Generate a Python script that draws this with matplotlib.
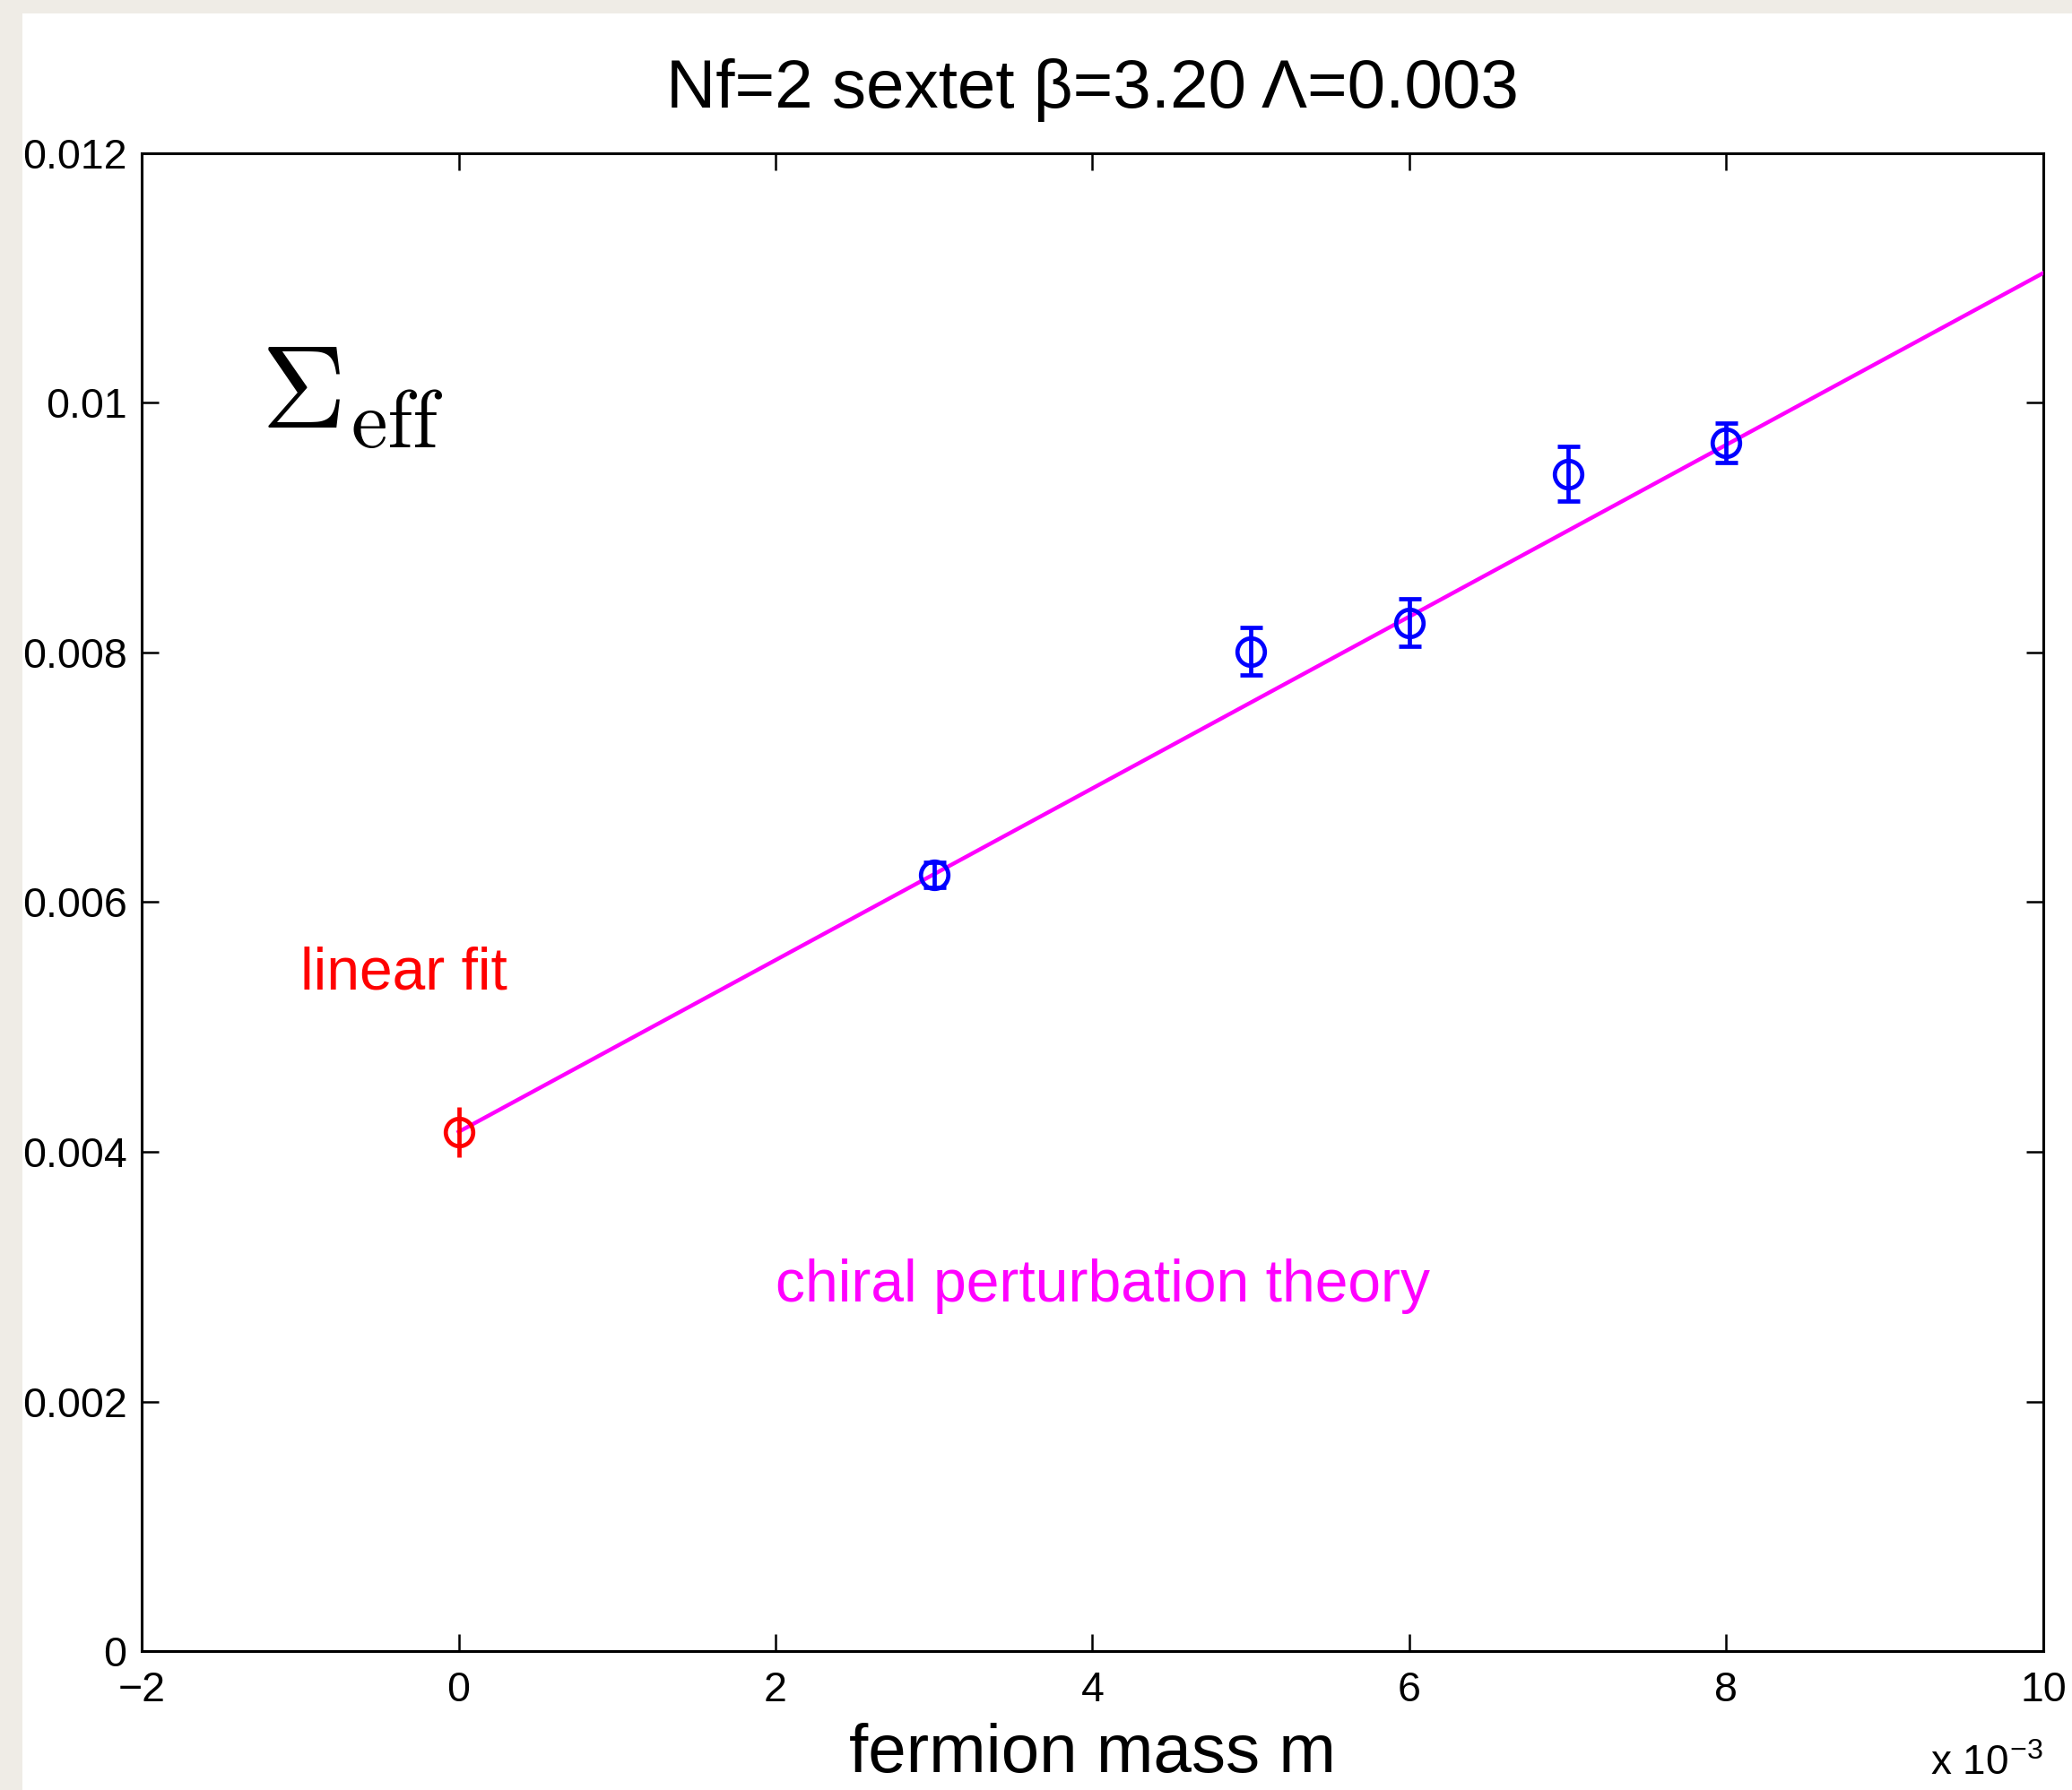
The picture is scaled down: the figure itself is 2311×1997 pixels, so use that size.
import numpy as np
import matplotlib
matplotlib.use('Agg')
import matplotlib.pyplot as plt
from matplotlib.patches import Rectangle

plt.rcParams['font.family'] = ['Liberation Sans', 'DejaVu Sans']
plt.rcParams['mathtext.fontset'] = 'cm'

# data (fermion mass in units of 1e-3)
mass_fit = [0.0]
sigma_fit = [0.00416]
err_fit = [0.00020]

mass_data = [3, 5, 6, 7, 8]
sigma_data = [0.00622, 0.00801, 0.00824, 0.00943, 0.00968]
err_data = [0.00010, 0.00019, 0.00019, 0.00022, 0.00016]

# chiral perturbation theory line
line_m = [0, 10]
line_sigma = [0.00416, 0.01104]

fig = plt.figure(figsize=(23.11, 19.97), dpi=100)
fig.patch.set_facecolor('#efece6')
fig.patches.append(Rectangle((0.0108, 0.0), 0.9892, 0.9925, transform=fig.transFigure,
                             facecolor='white', edgecolor='none', zorder=-10))

ax = fig.add_axes([0.0684, 0.0776, 0.9177, 0.8368])
ax.set_facecolor('white')

ax.plot(line_m, line_sigma, color='magenta', lw=3.2, zorder=3)
ax.errorbar(mass_data, sigma_data, yerr=err_data, fmt='o', color='blue',
            mfc='none', mec='blue', ms=22, mew=3.4, elinewidth=3.4,
            capsize=9, capthick=3.4, zorder=4)
ax.errorbar(mass_fit, sigma_fit, yerr=err_fit, fmt='o', color='red',
            mfc='none', mec='red', ms=22, mew=3.4, elinewidth=3.4,
            capsize=0, zorder=4)

ax.set_xlim(-2, 10)
ax.set_ylim(0, 0.012)
ax.set_xticks(np.arange(-2, 11, 2))
ax.set_xticklabels(['\u22122', '0', '2', '4', '6', '8', '10'])
ax.set_yticks(np.arange(0, 0.0121, 0.002))
ax.set_yticklabels(['0', '0.002', '0.004', '0.006', '0.008', '0.01', '0.012'])
ax.tick_params(direction='in', length=14, width=1.8, labelsize=33.5,
               top=True, right=True)
ax.tick_params(axis='x', pad=16)
ax.tick_params(axis='y', pad=12)
for s in ax.spines.values():
    s.set_linewidth(2.2)

ax.set_title('Nf=2 sextet \u03b2=3.20 \u039b=0.003', fontsize=55, pad=37)
ax.set_xlabel('fermion mass m', fontsize=55, labelpad=10)

ax.text(-1.25, 0.0098, r'$\Sigma_{\rm eff}$', fontsize=94, color='black')
ax.text(-1.0, 0.0053, 'linear fit', fontsize=47.5, color='red')
ax.text(2.0, 0.0028, 'chiral perturbation theory', fontsize=47.5, color='magenta')
ax.text(1.0, -0.062, r'x 10$^{\mathregular{-3}}$', transform=ax.transAxes,
        fontsize=33, ha='right', va='top')

fig.savefig('out.png', dpi=100)
